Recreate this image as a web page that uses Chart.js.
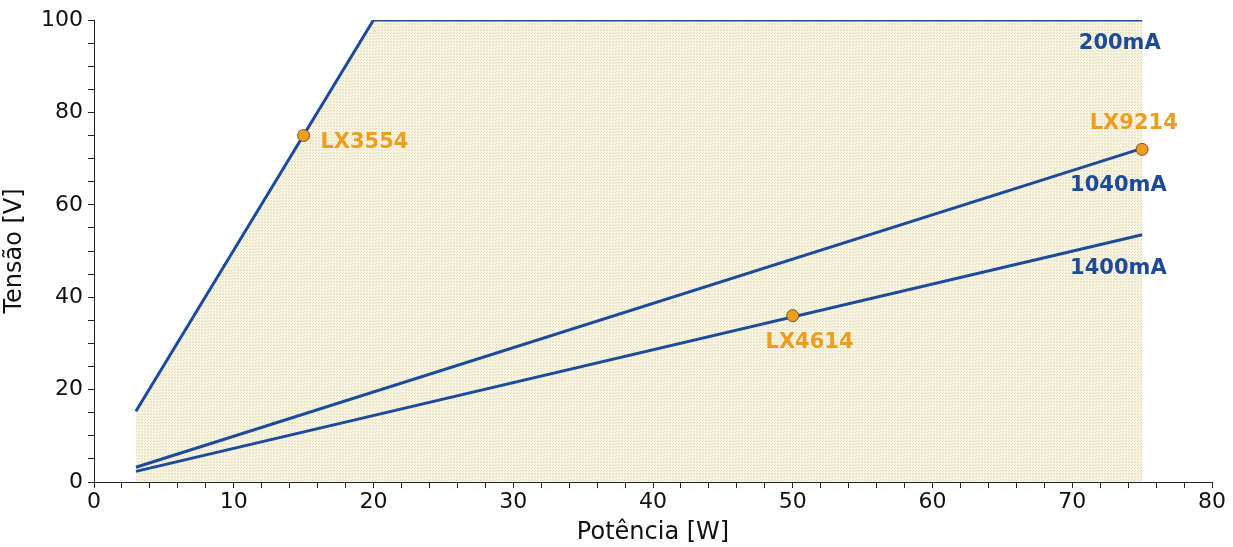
<!DOCTYPE html>
<html>
<head>
<meta charset="utf-8">
<script src="https://cdn.jsdelivr.net/npm/chart.js@4"></script>
<style>
  html, body { margin: 0; padding: 0; background: #fff; }
  #wrap { width: 1233px; height: 547px; }
</style>
</head>
<body>
<div id="wrap"><canvas id="myChart" width="1233" height="547"></canvas></div>
<script>
// data
var x200 = [3, 20, 75];
var y200 = [15.3, 100, 100];
var x1040 = [3, 75];
var y1040 = [3.2, 72.2];
var x1400 = [3, 75];
var y1400 = [2.3, 53.5];
var ledNames = ['LX3554', 'LX4614', 'LX9214'];
var ledX = [15, 50, 75];
var ledY = [75, 36, 72];
var curveNames = ['200mA', '1040mA', '1400mA'];

var BLUE = '#1d4b9b';
var ORANGE = '#ee9d1f';
var FONT = "'DejaVu Sans', Verdana, sans-serif";

function toPoints(xs, ys) {
    var pts = [];
    for (var i = 0; i < xs.length; i++) pts.push({ x: xs[i], y: ys[i] });
    return pts;
}

function makePattern() {
    var c = document.createElement('canvas');
    c.width = 3; c.height = 3;
    var g = c.getContext('2d');
    g.fillStyle = '#f8f5e3';
    g.fillRect(0, 0, 3, 3);
    g.fillStyle = '#e2dbba';
    g.fillRect(0, 0, 1, 1);
    g.fillRect(1, 2, 1, 1);
    return document.getElementById('myChart').getContext('2d').createPattern(c, 'repeat');
}

// text labels, anchored in data units
var labels = [
    { text: curveNames[0], x: 73.4, y: 94.9, color: BLUE, align: 'center' },
    { text: curveNames[1], x: 73.3, y: 64.1, color: BLUE, align: 'center' },
    { text: curveNames[2], x: 73.3, y: 46.3, color: BLUE, align: 'center' },
    { text: ledNames[0], x: 16.2, y: 73.4, color: ORANGE, align: 'left' },
    { text: ledNames[1], x: 51.2, y: 30.1, color: ORANGE, align: 'center' },
    { text: ledNames[2], x: 74.4, y: 77.5, color: ORANGE, align: 'center' }
];

var textPlugin = {
    id: 'textLabels',
    afterDatasetsDraw: function (chart) {
        var ctx = chart.ctx;
        var xs = chart.scales.x, ys = chart.scales.y;
        ctx.save();
        ctx.font = 'bold 21px ' + FONT;
        ctx.textBaseline = 'middle';
        labels.forEach(function (l) {
            ctx.fillStyle = l.color;
            ctx.textAlign = l.align;
            ctx.fillText(l.text, xs.getPixelForValue(l.x), ys.getPixelForValue(l.y));
        });
        ctx.restore();
    }
};

const ctx = document.getElementById('myChart').getContext('2d');
window.chart = new Chart(ctx, {
    type: 'scatter',
    data: {
        datasets: [
            {
                label: 'LEDs',
                data: toPoints(ledX, ledY),
                pointRadius: 6,
                backgroundColor: ORANGE,
                borderColor: '#6e5a2e',
                borderWidth: 1,
                showLine: false,
                order: 0
            },
            {
                label: curveNames[0],
                data: toPoints(x200, y200),
                showLine: true,
                borderColor: BLUE,
                borderWidth: 3,
                pointRadius: 0,
                fill: 'origin',
                backgroundColor: makePattern(),
                order: 3
            },
            {
                label: curveNames[1],
                data: toPoints(x1040, y1040),
                showLine: true,
                borderColor: BLUE,
                borderWidth: 3,
                pointRadius: 0,
                order: 2
            },
            {
                label: curveNames[2],
                data: toPoints(x1400, y1400),
                showLine: true,
                borderColor: BLUE,
                borderWidth: 3,
                pointRadius: 0,
                order: 1
            }
        ]
    },
    options: {
        responsive: false,
        animation: false,
        layout: { padding: { top: 20, right: 21, left: 0, bottom: 0 } },
        plugins: {
            legend: { display: false },
            tooltip: { enabled: false }
        },
        scales: {
            x: {
                type: 'linear',
                min: 0,
                max: 80,
                afterFit: function (s) { s.height = 65; },
                border: { color: '#222', width: 1 },
                grid: { drawOnChartArea: false, color: '#222', tickLength: 6 },
                ticks: {
                    stepSize: 2,
                    autoSkip: false,
                    maxRotation: 0,
                    color: '#111',
                    padding: 1,
                    font: { family: FONT, size: 22 },
                    callback: function (v) { return v % 10 === 0 ? v : ''; }
                },
                title: {
                    display: true,
                    text: 'Potência [W]',
                    color: '#111',
                    padding: 0,
                    font: { family: FONT, size: 24 }
                }
            },
            y: {
                type: 'linear',
                min: 0,
                max: 100,
                afterFit: function (s) { s.width = 94; },
                border: { color: '#222', width: 1 },
                grid: { drawOnChartArea: false, color: '#222', tickLength: 6 },
                ticks: {
                    stepSize: 5,
                    autoSkip: false,
                    color: '#111',
                    padding: 5,
                    font: { family: FONT, size: 22 },
                    callback: function (v) { return v % 20 === 0 ? v : ''; }
                },
                title: {
                    display: true,
                    text: 'Tensão [V]',
                    color: '#111',
                    padding: 0,
                    font: { family: FONT, size: 24 }
                }
            }
        }
    },
    plugins: [textPlugin]
});
</script>
</body>
</html>
